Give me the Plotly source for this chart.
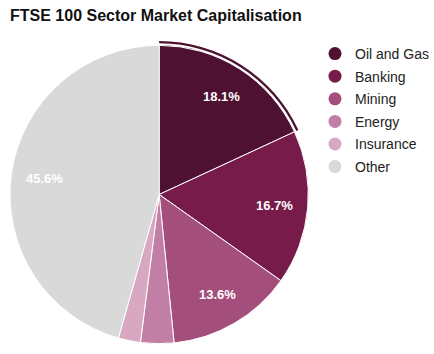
import math
import plotly.graph_objects as go

# ---- data ----
sectors = ["Oil and Gas", "Banking", "Mining", "Energy", "Insurance", "Other"]
shares = [18.1, 16.7, 13.6, 3.6, 2.4, 45.6]
colors = ["#4e1131", "#761b4a", "#a44e7b", "#c27fa5", "#d8a8c3", "#d9d9d9"]
title_text = "FTSE 100 Sector Market Capitalisation"

W, H = 434, 354
cx, cy, r = 159.5, 194.5, 149.5          # pie centre / radius in px
ring_in, ring_out = 151.5, 153.8         # hover halo ring around first slice
label_r = 116                            # label distance from centre

def dom(rad):
    return dict(x=[(cx - rad) / W, (cx + rad) / W],
                y=[1 - (cy + rad) / H, 1 - (cy - rad) / H])

fig = go.Figure()

# halo ring around the first (hovered) slice
fig.add_trace(go.Pie(
    labels=sectors, values=shares, sort=False, direction="clockwise", rotation=0,
    domain=dom(ring_out), hole=ring_in / ring_out,
    marker=dict(colors=[colors[0]] + ["rgba(0,0,0,0)"] * (len(shares) - 1),
                line=dict(width=0)),
    textinfo="none", hoverinfo="skip", showlegend=False,
))

# main pie
fig.add_trace(go.Pie(
    labels=sectors, values=shares, sort=False, direction="clockwise", rotation=0,
    domain=dom(r),
    marker=dict(colors=colors, line=dict(color="white", width=1)),
    textinfo="none", showlegend=False,
    hovertemplate="%{label}: %{value:.1f}%<extra></extra>",
))

# legend entries with circle symbols
for name, col in zip(sectors, colors):
    fig.add_trace(go.Scatter(
        x=[None], y=[None], mode="markers", name=name, legendgroup=name,
        marker=dict(symbol="circle", size=13, color=col),
    ))

# percentage labels at fixed distance along each slice's mid angle
total = sum(shares)
annotations = []
cum = 0.0
for v in shares:
    mid = (cum + v / 2) / total * 2 * math.pi
    cum += v
    if v / total < 0.05:
        continue
    px = cx + label_r * math.sin(mid)
    py = cy - label_r * math.cos(mid)
    annotations.append(dict(
        x=px / W, y=1 - py / H, xref="paper", yref="paper",
        text=f"<b>{v:.1f}%</b>", showarrow=False, xanchor="center", yanchor="middle",
        font=dict(family="Liberation Sans, Arial, sans-serif", size=13, color="white"),
    ))

fig.update_layout(
    width=W, height=H,
    margin=dict(l=0, r=0, t=0, b=0),
    paper_bgcolor="white", plot_bgcolor="white",
    title=dict(text="<b>" + title_text + "</b>", x=10 / W, xanchor="left",
               y=1 - 15.5 / H, yanchor="middle", xref="container", yref="container",
               font=dict(family="Liberation Sans, Arial, sans-serif", size=16, color="#111")),
    xaxis=dict(visible=False), yaxis=dict(visible=False),
    legend=dict(x=316 / W, xanchor="left", y=1 - 38 / H, yanchor="top",
                font=dict(family="Liberation Sans, Arial, sans-serif", size=14, color="#222"),
                tracegroupgap=1.4, bgcolor="rgba(0,0,0,0)", borderwidth=0),
    annotations=annotations,
    showlegend=True,
)

fig.write_html("out.html")
